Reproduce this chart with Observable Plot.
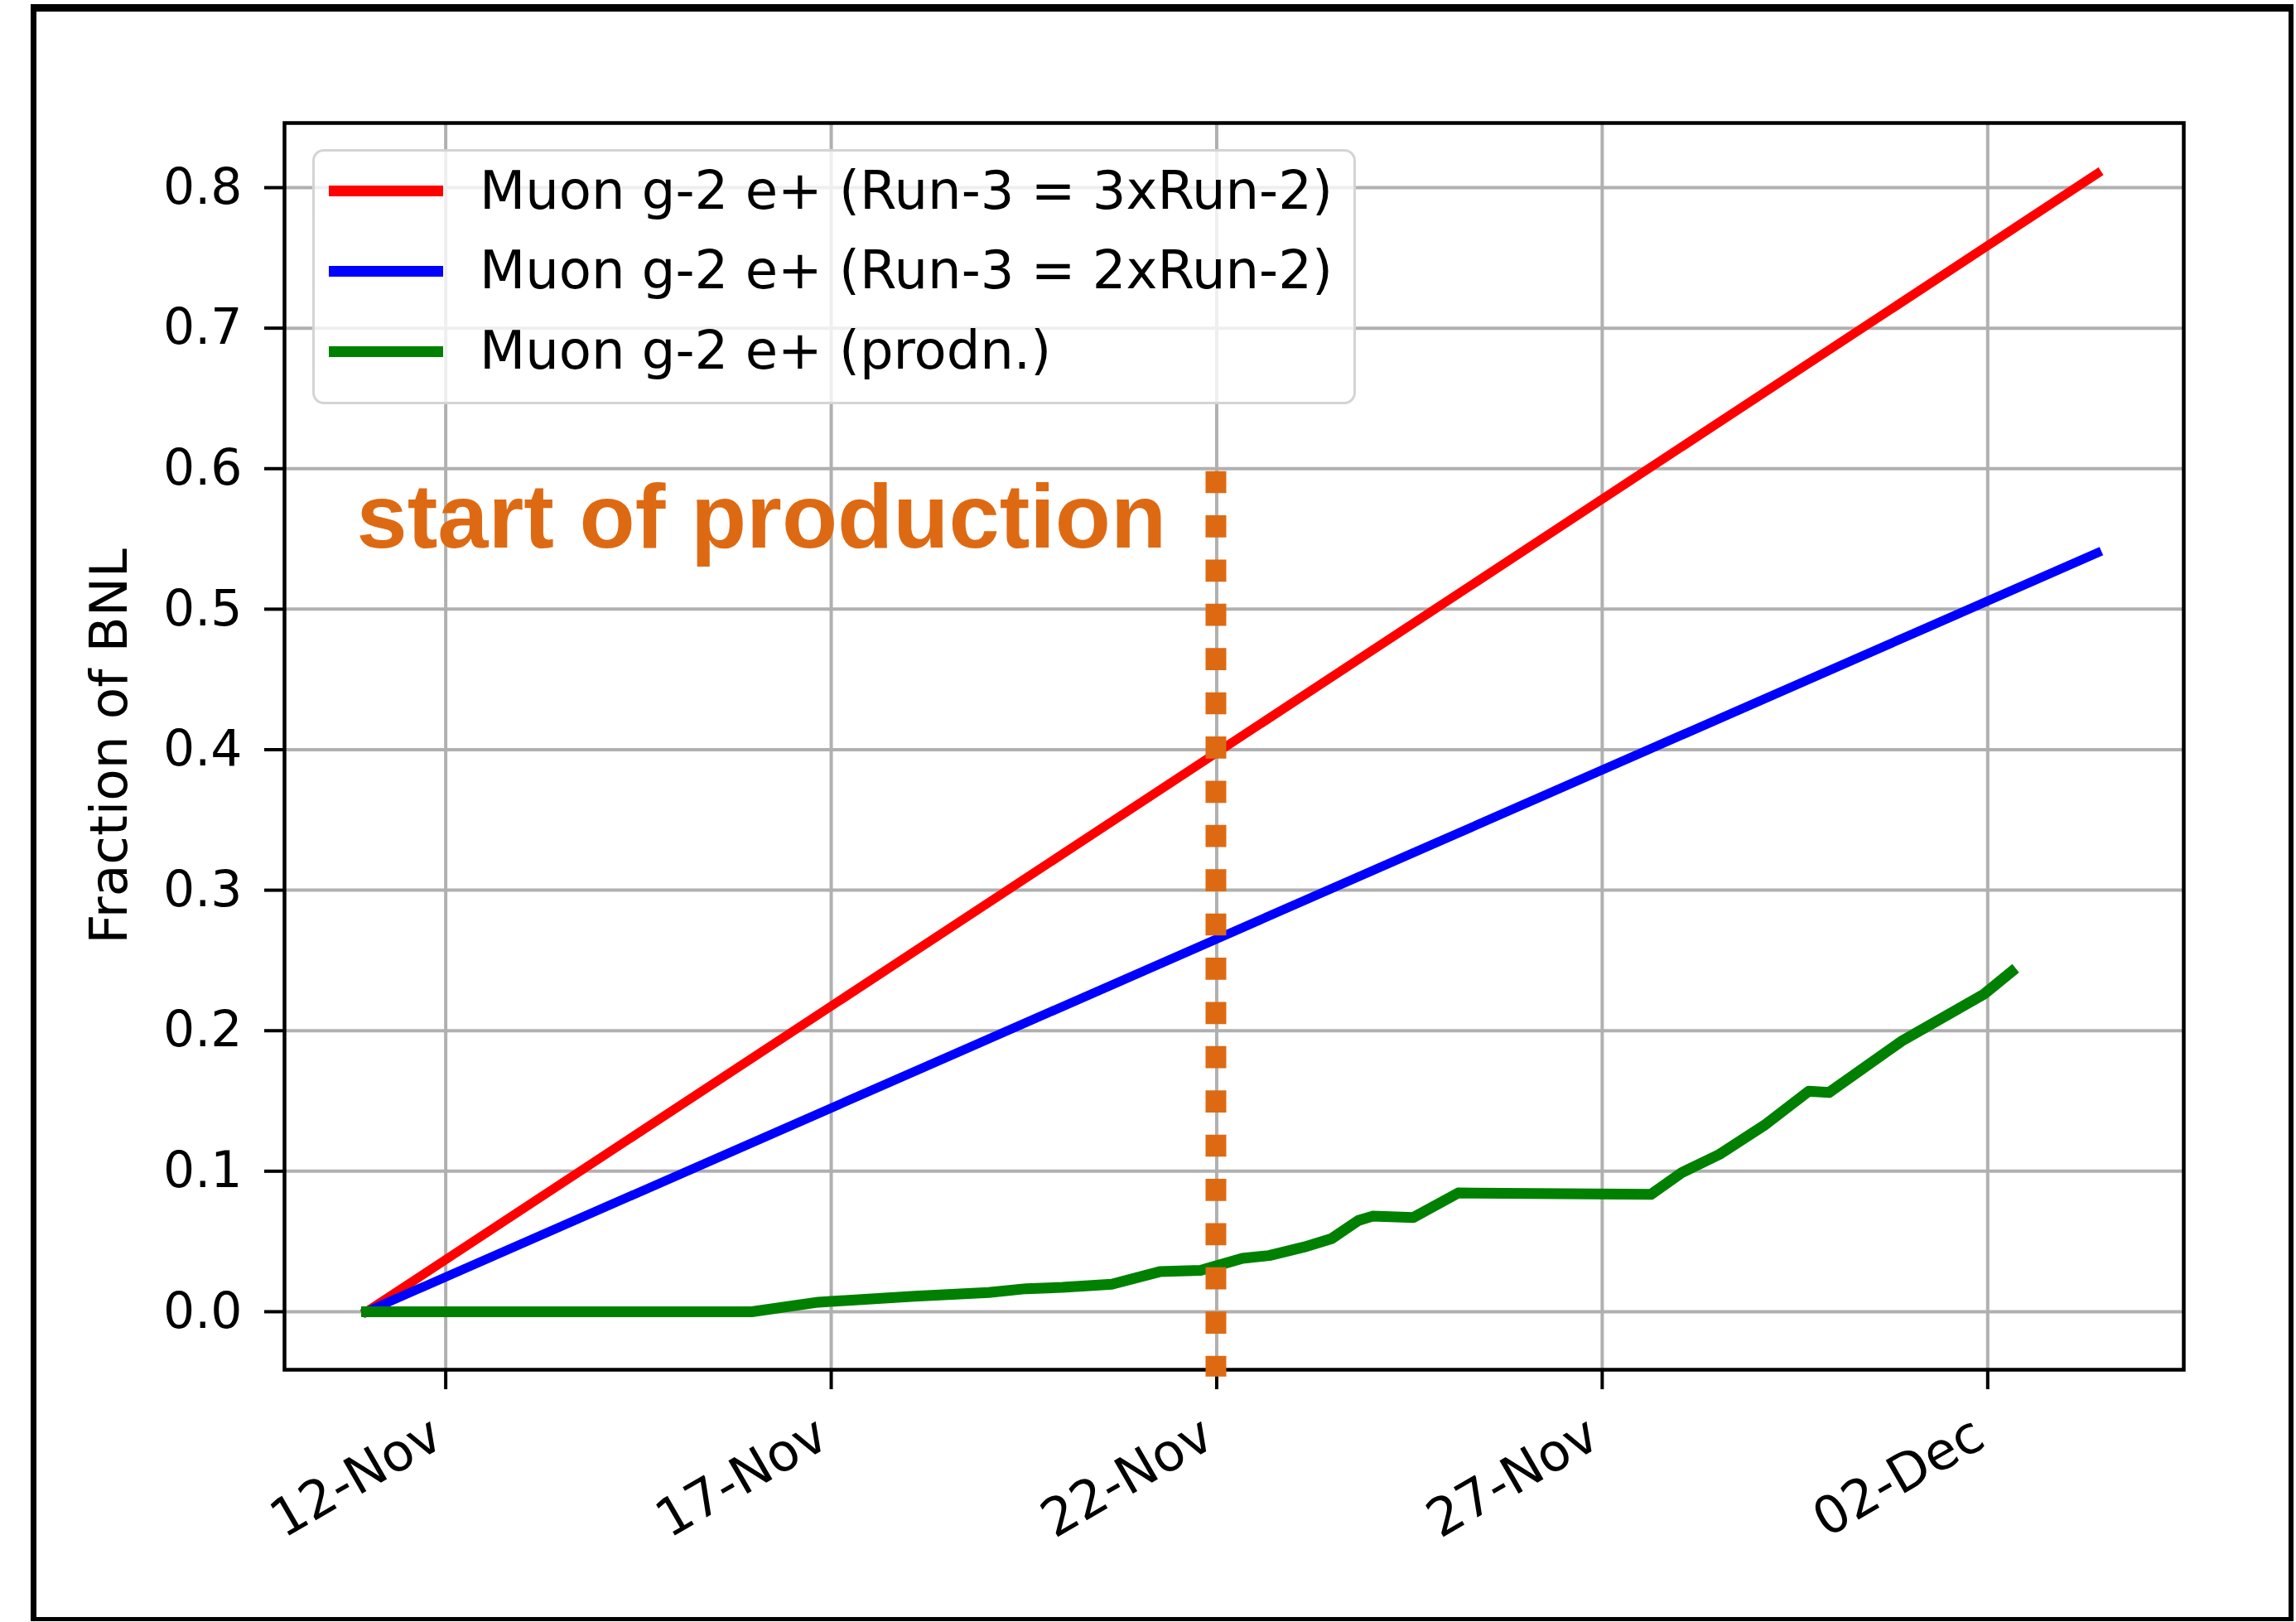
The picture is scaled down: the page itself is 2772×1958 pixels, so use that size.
<!DOCTYPE html>
<html><head><meta charset="utf-8">
<script src="https://cdn.jsdelivr.net/npm/d3@7"></script>
<script src="https://cdn.jsdelivr.net/npm/@observablehq/plot@0.6"></script>
<style>
html,body{margin:0;padding:0;background:#fff;}
#wrap{position:relative;width:2772px;height:1958px;overflow:hidden;background:#fff;}
#chart{position:absolute;left:0;top:0;}
#legendBox{position:absolute;left:377px;top:180px;width:1260px;height:308px;box-sizing:border-box;border:3px solid #d4d4d4;border-radius:14px;background:rgba(255,255,255,0.8);}
.lgText{position:absolute;font-family:"DejaVu Sans";font-size:64px;line-height:64px;white-space:nowrap;color:#000;}
.lgHandle{position:absolute;width:138px;height:13px;}
#border{position:absolute;left:37px;top:5px;width:2732px;height:1952px;box-sizing:border-box;border-style:solid;border-color:#000;border-width:9px 6px 5px 7px;}
</style></head><body>
<div id="wrap"><div id="chart"></div><div id="legend"></div><div id="border"></div></div>
<script>
// ---- data ----
const seriesNames = ["Muon g-2 e+ (Run-3 = 3xRun-2)", "Muon g-2 e+ (Run-3 = 2xRun-2)", "Muon g-2 e+ (prodn.)"];
const seriesColors = ["#ff0000", "#0000ff", "#008000"];
const projDates = ["2019-11-10T23:20", "2019-12-03T10:05"];
const run3x3Values = [0, 0.810];
const run3x2Values = [0, 0.540];
const prodDates = [
  "2019-11-10T23:20", "2019-11-15T23:15", "2019-11-16T20:00", "2019-11-17T03:00",
  "2019-11-18T02:00", "2019-11-19T01:00", "2019-11-19T12:40", "2019-11-20T00:00",
  "2019-11-20T15:20", "2019-11-21T06:15", "2019-11-21T19:00", "2019-11-22T08:00",
  "2019-11-22T16:20", "2019-11-23T03:10", "2019-11-23T11:45", "2019-11-23T20:10",
  "2019-11-24T00:30", "2019-11-24T13:10", "2019-11-25T03:10", "2019-11-27T15:10",
  "2019-11-28T00:45", "2019-11-28T12:30", "2019-11-29T02:25", "2019-11-29T16:20",
  "2019-11-29T22:35", "2019-11-30T21:10", "2019-12-01T22:50", "2019-12-02T07:25"
];
const prodValues = [
  0.000, 0.000, 0.0068, 0.0078,
  0.011, 0.0137, 0.0164, 0.0173,
  0.0196, 0.0285, 0.0295, 0.038,
  0.040, 0.046, 0.052, 0.065,
  0.068, 0.067, 0.0845, 0.0835,
  0.099, 0.112, 0.1326, 0.157,
  0.156, 0.1925, 0.226, 0.242
];
const xDomain = ["2019-11-09T21:49", "2019-12-04T13:02"];
const yDomain = [-0.0413, 0.846];
const xTickDates = ["2019-11-12", "2019-11-17", "2019-11-22", "2019-11-27", "2019-12-02"];
const yTicks = [0, 0.1, 0.2, 0.3, 0.4, 0.5, 0.6, 0.7, 0.8];
const yLabel = "Fraction of BNL";
const startProdDate = "2019-11-21T23:45";
const startProdRange = [0.598, -0.0464];
const annotText = "start of production";
const annotDate = "2019-11-10T20:15";
const annotValue = 0.5436;
const annotColor = "#dd6a13";

// ---- build ----
const toDate = s => new Date(s.length <= 10 ? s + "T00:00Z" : s + "Z");
const red = projDates.map((d, i) => ({date: toDate(d), value: run3x3Values[i]}));
const blue = projDates.map((d, i) => ({date: toDate(d), value: run3x2Values[i]}));
const green = prodDates.map((d, i) => ({date: toDate(d), value: prodValues[i]}));
const xTicks = xTickDates.map(toDate);

const chart = Plot.plot({
  width: 2772,
  height: 1958,
  marginLeft: 343,
  marginRight: 136,
  marginTop: 148,
  marginBottom: 305,
  style: {fontFamily: "DejaVu Sans", fontSize: "60px", background: "transparent", overflow: "visible", color: "#000"},
  x: {type: "utc", domain: xDomain.map(toDate)},
  y: {domain: yDomain},
  marks: [
    Plot.gridX(xTicks, {stroke: "#b0b0b0", strokeOpacity: 1, strokeWidth: 4}),
    Plot.gridY(yTicks, {stroke: "#b0b0b0", strokeOpacity: 1, strokeWidth: 4}),
    Plot.line(red, {x: "date", y: "value", stroke: seriesColors[0], strokeWidth: 11, strokeLinecap: "square"}),
    Plot.line(blue, {x: "date", y: "value", stroke: seriesColors[1], strokeWidth: 11, strokeLinecap: "square"}),
    Plot.line(green, {x: "date", y: "value", stroke: seriesColors[2], strokeWidth: 13, strokeLinecap: "square", strokeLinejoin: "round"}),
    Plot.frame({stroke: "#000", strokeWidth: 4.5}),
    Plot.axisY({ticks: yTicks, tickFormat: ".1f", tickSize: 24, tickPadding: 27, strokeWidth: 4, fontSize: 60, label: null}),
    Plot.axisX({ticks: xTicks, tickFormat: d3.utcFormat("%d-%b"), tickSize: 24, tickPadding: 67, tickRotate: -30, textAnchor: "end", lineAnchor: "bottom", strokeWidth: 4, fontSize: 63, label: null}),
    Plot.text([yLabel], {frameAnchor: "left", text: d => d, rotate: -90, dx: -191, lineAnchor: "bottom", textAnchor: "middle", fontSize: 63, fill: "#000"}),
    Plot.ruleX([toDate(startProdDate)], {x: d => d, y1: startProdRange[0], y2: startProdRange[1], stroke: annotColor, strokeWidth: 25, strokeDasharray: "26.7,26.7", clip: false}),
    Plot.text([annotText], {x: () => toDate(annotDate), y: () => annotValue, text: d => d, textAnchor: "start", lineAnchor: "bottom", fill: annotColor, fontSize: 110, fontWeight: "bold", fontFamily: "Liberation Sans"})
  ]
});
document.getElementById("chart").appendChild(chart);

// ---- legend (HTML overlay) ----
const legend = document.getElementById("legend");
const box = document.createElement("div");
box.id = "legendBox";
legend.appendChild(box);
const handleCenters = [230, 327, 424];
const baselines = [251.7, 348.3, 445];
seriesNames.forEach((name, i) => {
  const h = document.createElement("div");
  h.className = "lgHandle";
  h.style.left = "397px";
  h.style.top = (handleCenters[i] - 6.5) + "px";
  h.style.background = seriesColors[i];
  legend.appendChild(h);
  const t = document.createElement("div");
  t.className = "lgText";
  t.style.left = "579px";
  t.style.top = (baselines[i] - 54.1) + "px";
  t.textContent = name;
  legend.appendChild(t);
});
</script>
</body></html>
